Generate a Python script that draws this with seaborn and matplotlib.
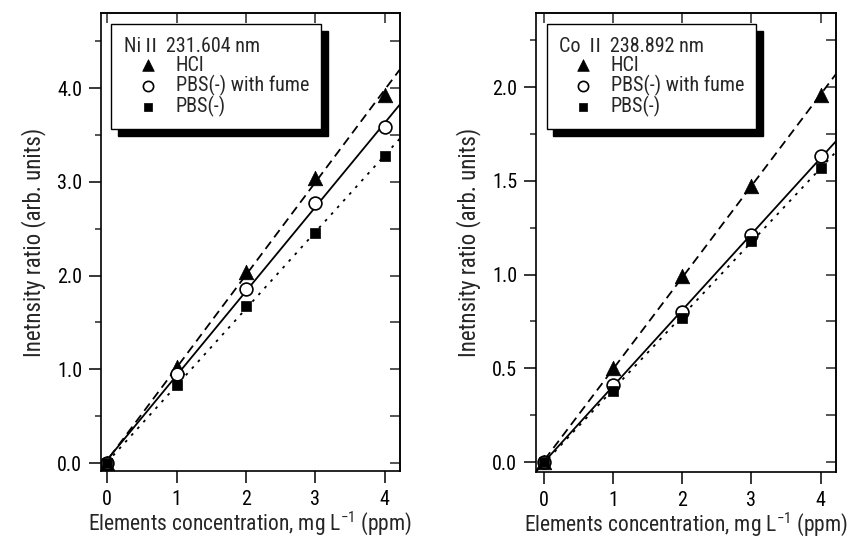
import numpy as np
import pandas as pd
import seaborn as sns
import matplotlib
matplotlib.use("Agg")
import matplotlib.pyplot as plt
from matplotlib.ticker import MultipleLocator

conc = [0, 1, 2, 3, 4]
ni_hcl = [0.0, 1.02, 2.04, 3.04, 3.93]
ni_fume = [0.0, 0.95, 1.86, 2.77, 3.58]
ni_pbs = [0.0, 0.83, 1.67, 2.45, 3.28]
co_hcl = [0.0, 0.50, 0.99, 1.47, 1.96]
co_fume = [0.0, 0.41, 0.80, 1.21, 1.63]
co_pbs = [0.0, 0.38, 0.77, 1.18, 1.57]
series_names = ["HCl", "PBS(-) with fume", "PBS(-)"]
titles = ["Ni\u2161 231.604 nm", "Co \u2161 238.892 nm"]
xlabel = "Elements concentration, mg L$^{-1}$ (ppm)"
ylabel = "Inetnsity ratio (arb. units)"

sns.set_style("ticks")
FONT = ["Roboto Condensed", "Noto Sans CJK JP", "DejaVu Sans"]
plt.rcParams["font.family"] = FONT
plt.rcParams["mathtext.fontset"] = "custom"
plt.rcParams["mathtext.rm"] = "Roboto Condensed"
plt.rcParams["mathtext.default"] = "rm"

fig = plt.figure(figsize=(8.65, 5.36), dpi=100)
W, H = 865, 536
ax1 = fig.add_axes([101 / W, 1 - 471 / H, 299 / W, 458 / H])
ax2 = fig.add_axes([536 / W, 1 - 472 / H, 300 / W, 459 / H])

markers = ["^", "o", "s"]
sizes = [110, 85, 60]
styles = [(0, (5, 3)), "-", (0, (1.5, 3.5))]

panels = [
    (ax1, [ni_hcl, ni_fume, ni_pbs], (-0.09, 4.22), (-0.085, 4.80), 1.0, 0.5, "{:.1f}"),
    (ax2, [co_hcl, co_fume, co_pbs], (-0.11, 4.22), (-0.053, 2.395), 0.5, 0.25, "{:.1f}"),
]

for i, (ax, series, xl, yl, maj, mnr, fmt) in enumerate(panels):
    ax.set_xlim(*xl)
    ax.set_ylim(*yl)
    for name, vals, m, s, ls in zip(series_names, series, markers, sizes, styles):
        df = pd.DataFrame({"x": conc, "y": vals})
        sns.regplot(data=df, x="x", y="y", ax=ax, scatter=False, ci=None,
                    truncate=False, color="black",
                    line_kws={"linestyle": ls, "linewidth": 1.3})
        if m == "o":
            sns.scatterplot(data=df, x="x", y="y", ax=ax, marker="o", s=s,
                            facecolor="white", edgecolor="black", linewidth=1.2,
                            label=name, zorder=5)
        else:
            sns.scatterplot(data=df, x="x", y="y", ax=ax, marker=m, s=s,
                            color="black", edgecolor="black", linewidth=0.5,
                            label=name, zorder=5)
    ax.set_xlim(*xl)
    ax.set_ylim(*yl)
    ax.set_xticks([0, 1, 2, 3, 4])
    ax.yaxis.set_major_locator(MultipleLocator(maj))
    ax.yaxis.set_minor_locator(MultipleLocator(mnr))
    ax.set_yticklabels([fmt.format(v) for v in ax.get_yticks()])
    ax.tick_params(axis="both", which="major", direction="out", length=8.5,
                   width=1.1, labelsize=14.5, colors="black")
    ax.tick_params(axis="x", which="major", pad=5)
    ax.tick_params(axis="y", which="major", pad=5)
    ax.tick_params(axis="y", which="minor", direction="out", length=4, width=1.1)
    for sp in ax.spines.values():
        sp.set_linewidth(1.2)
        sp.set_color("black")
        sp.set_visible(True)
    top = ax.secondary_xaxis("top")
    top.set_xticks([0, 1, 2, 3, 4])
    top.tick_params(direction="in", length=7, width=1.1, labeltop=False)
    right = ax.secondary_yaxis("right")
    right.yaxis.set_major_locator(MultipleLocator(mnr))
    right.tick_params(direction="in", length=7, width=1.1, labelright=False)
    for sp in list(top.spines.values()) + list(right.spines.values()):
        sp.set_linewidth(1.2)

    ax.set_xlabel(xlabel, fontsize=15.5, labelpad=0)
    ax.set_ylabel(ylabel, fontsize=16.5, labelpad=8)

    leg = ax.legend(title=titles[i], loc="upper left", bbox_to_anchor=(0.035, 0.975),
                    frameon=True, fancybox=False, edgecolor="black",
                    fontsize=14.5, title_fontsize=14.5, handletextpad=0.2,
                    borderpad=0.6, labelspacing=0.0, handlelength=2.4,
                    borderaxespad=0, markerscale=0.8,
                    shadow={"color": "black", "alpha": 1, "ox": 4.5, "oy": -5})
    leg._legend_box.align = "left"
    leg.get_frame().set_linewidth(1.0)
    leg.get_frame().set_alpha(1)

fig.savefig("out.png", dpi=100)
